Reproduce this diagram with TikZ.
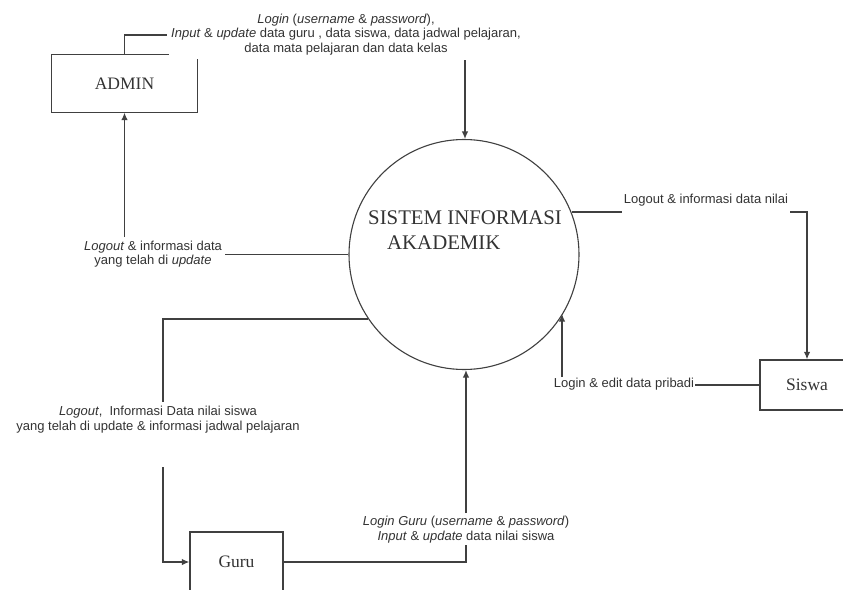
\documentclass[tikz,border=0pt]{standalone}
\usepackage{fontspec}
\setmainfont{Liberation Serif}
\newfontfamily\lblfont{Liberation Sans}
\usetikzlibrary{arrows.meta}

\tikzset{
  flow/.style={draw=black!75, line width=1.3pt},
  flowarrow/.style={flow, -{Latex[length=7.5pt,width=6.5pt]}},
  entity/.style={draw=black!75, line width=1.3pt, minimum width=#1, inner sep=0pt,
    font=\fontsize{17.5}{20}\selectfont, text=black!80},
  proc/.style={circle, draw=black!75, line width=1.1pt, minimum size=230pt, inner sep=0pt},
  proctext/.style={anchor=west, inner sep=0pt, font=\fontsize{20.8}{24}\selectfont, text=black!80},
  flowlbl/.style={inner sep=0pt, align=center, text=black!80,
    font=\lblfont\fontsize{13}{14.5}\selectfont}
}

\begin{document}
\begin{tikzpicture}[x=1pt,y=-1pt]
\useasboundingbox[fill=white] (0,0) rectangle (843,589);
\begin{scope}
\clip (0,0) rectangle (843,589);

% process
\node[proc] (sys) at (464,254.5) {};
\node[proctext] (sysA) at (368,218) {SISTEM INFORMASI};
\node[proctext] (sysB) at (387,243) {AKADEMIK};

% external entities
\node[entity=145pt, minimum height=57pt, draw=none] (admin) at (124.5,83.5) {ADMIN};
\draw[flow] (admin.north east) ++(-29,0) -- (admin.north west) -- (admin.south west)
  -- (admin.south east) -- ++(0,-54);
\node[entity=94pt, minimum height=50pt] (siswa) at (807,385) {Siswa};
\node[entity=93pt, minimum height=60pt] (guru) at (236.5,562) {Guru};

% flow labels
\node[flowlbl] (l1) at (346,34.5) {\textit{Login} (\textit{username} \& \textit{password}),\\
  \textit{Input} \& \textit{update} data guru , data siswa, data jadwal pelajaran,\\
  data mata pelajaran dan data kelas};
\node[flowlbl] (l2) at (153,254) {\textit{Logout} \& informasi data\\yang telah di \textit{update}};
\node[flowlbl] (l3) at (706,200) {Logout \& informasi data nilai};
\node[flowlbl] (l4) at (624,384.5) {Login \& edit data pribadi};
\node[flowlbl] (l5) at (158,419.5) {\textit{Logout},\ \ Informasi Data nilai siswa\\
  yang telah di update \& informasi jadwal pelajaran};
\node[flowlbl] (l6) at (466,529.5) {\textit{Login Guru} (\textit{username} \& \textit{password})\\
  \textit{Input} \& \textit{update} data nilai siswa};

% connector break points
\coordinate (c1a) at (167,35);
\coordinate (c1b) at (465,60);
\coordinate (c2a) at (225,254.5);
\coordinate (c2b) at (124.5,237);
\coordinate (c3a) at (622,212);
\coordinate (c3b) at (790,212);
\coordinate (c4a) at (695,385);
\coordinate (c4b) at (562,377);
\coordinate (c5a) at (163,402);
\coordinate (c5b) at (163,467);
\coordinate (c6a) at (466,545);
\coordinate (c6b) at (466,513);

% flows
\draw[flow] (admin.north) |- (c1a);
\draw[flowarrow] (c1b) -- (c1b |- sys.north);
\draw[flow] (sys.west) -- (c2a);
\draw[flowarrow] (c2b) -- (admin.south);
\draw[flow] (sys.21.7 |- c3a) -- (c3a);
\draw[flowarrow] (c3b) -| (siswa.north);
\draw[flow] (siswa.west) -- (c4a);
\draw[flowarrow] (c4b) -- (c4b |- sys.-31.6);
\draw[flow] (sys.214) -| (c5a);
\draw[flowarrow] (c5b) |- (guru.west);
\draw[flow] (guru.east) -| (c6a);
\draw[flowarrow] (c6b) -- (c6b |- sys.south);
\end{scope}
\end{tikzpicture}
\end{document}
